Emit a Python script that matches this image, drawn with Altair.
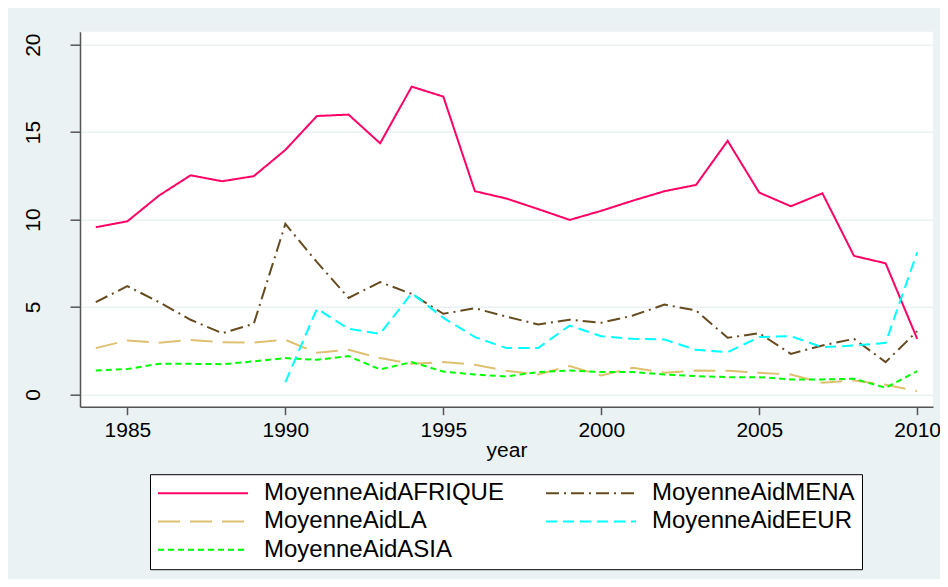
import altair as alt
import pandas as pd

years = list(range(1984, 2011))

afrique = [9.56, 9.9, 11.37, 12.53, 12.19, 12.48, 13.98, 15.92, 16.0, 14.36, 17.6, 17.03,
           11.62, 11.2, 10.6, 9.98, 10.5, 11.08, 11.62, 11.98, 14.5, 11.54, 10.76, 11.5,
           7.92, 7.5, 3.18]
mena = [5.28, 6.19, 5.28, 4.27, 3.5, 4.04, 9.75, 7.56, 5.52, 6.42, 5.75, 4.61,
        4.93, 4.45, 4.0, 4.27, 4.1, 4.51, 5.14, 4.8, 3.24, 3.5, 2.32, 2.8,
        3.18, 1.85, 3.62]
la = [2.65, 3.09, 2.95, 3.12, 2.99, 2.97, 3.12, 2.38, 2.55, 2.08, 1.75, 1.85,
      1.7, 1.35, 1.14, 1.62, 1.09, 1.52, 1.24, 1.37, 1.35, 1.24, 1.14, 0.67,
      0.8, 0.55, 0.19]
asia = [1.37, 1.45, 1.75, 1.75, 1.73, 1.89, 2.08, 1.98, 2.19, 1.43, 1.85, 1.31,
        1.14, 1.03, 1.28, 1.37, 1.28, 1.28, 1.14, 1.05, 0.99, 0.99, 0.86, 0.86,
        0.9, 0.38, 1.33]
eeur_years = list(range(1990, 2011))
eeur = [0.7, 4.9, 3.75, 3.47, 5.79, 4.38, 3.28, 2.65, 2.65, 3.94, 3.33, 3.18,
        3.14, 2.55, 2.42, 3.28, 3.33, 2.7, 2.8, 2.95, 8.13]

# legend fills column by column: AFRIQUE, LA, ASIA | MENA, EEUR
series_names = ["MoyenneAidAFRIQUE", "MoyenneAidLA", "MoyenneAidASIA",
                "MoyenneAidMENA", "MoyenneAidEEUR"]
series_colors = ["#FF0066", "#DEC070", "#00FF00", "#654B1E", "#00FFFF"]
series_dashes = [[1, 0], [22, 10], [6, 4], [13, 5, 2, 5], [11, 6]]

rows = []
for name, xs, vals in [
    ("MoyenneAidAFRIQUE", years, afrique),
    ("MoyenneAidLA", years, la),
    ("MoyenneAidASIA", years, asia),
    ("MoyenneAidMENA", years, mena),
    ("MoyenneAidEEUR", eeur_years, eeur),
]:
    for x, v in zip(xs, vals):
        rows.append({"year": x, "value": v, "series": name})
df = pd.DataFrame(rows)

FONT = "Liberation Sans"

chart = alt.Chart(df).mark_line(strokeWidth=2).encode(
    x=alt.X("year:Q",
            scale=alt.Scale(domain=[1983.5, 2010.5], nice=False, zero=False),
            axis=alt.Axis(values=[1985, 1990, 1995, 2000, 2005, 2010], format="d",
                          title="year", grid=False, tickSize=8, labelFontSize=21,
                          labelPadding=5, labelFlush=False, labelOverlap=False,
                          titleFontSize=21, titleFontWeight="normal",
                          titleBaseline="alphabetic", titleY=50)),
    y=alt.Y("value:Q",
            scale=alt.Scale(domain=[-0.7, 20.74], nice=False, zero=False),
            axis=alt.Axis(values=[0, 5, 10, 15, 20], title=None, grid=True,
                          gridColor="#EAF2F3", gridWidth=1.5, tickSize=10,
                          labelAngle=270, labelAlign="center",
                          labelBaseline="alphabetic", labelPadding=31,
                          labelFontSize=21)),
    color=alt.Color("series:N", title=None,
                    scale=alt.Scale(domain=series_names, range=series_colors),
                    legend=alt.Legend(orient="none", legendX=70, legendY=442.5,
                                      columns=2, symbolType="stroke",
                                      symbolSize=8100, symbolStrokeWidth=2,
                                      clipHeight=24, labelFontSize=24,
                                      labelOffset=15, columnPadding=40,
                                      rowPadding=4.3, padding=7,
                                      strokeColor="black", fillColor="white",
                                      labelLimit=400, labelFont=FONT,
                                      labelColor="black")),
    strokeDash=alt.StrokeDash("series:N", title=None,
                              scale=alt.Scale(domain=series_names, range=series_dashes)),
    detail="series:N",
).properties(
    width=853,
    height=375,
    autosize=alt.AutoSizeParams(type="none"),
    padding={"left": 72, "top": 23.7, "right": 7, "bottom": 172},
    background="#EAF2F3",
).configure_view(
    fill="white", strokeWidth=0
).configure_axis(
    domainColor="#555555", domainWidth=1.5, tickColor="#555555", tickWidth=1.5,
    labelColor="black", titleColor="black", labelFont=FONT, titleFont=FONT,
)

chart.save("out.html", embed_options={"renderer": "svg", "actions": False})
